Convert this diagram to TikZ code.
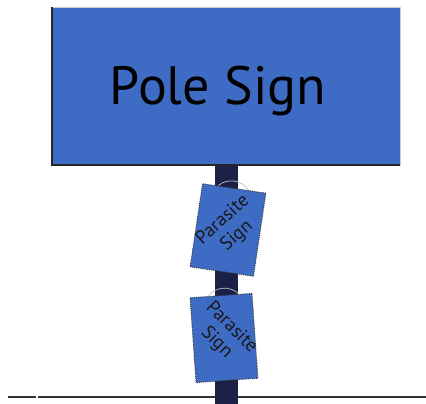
\documentclass[tikz,border=0pt]{standalone}
\usepackage{fontspec}
\setmainfont{PT Sans}
\usetikzlibrary{calc}

\definecolor{signblue}{RGB}{62,108,196}
\definecolor{polenavy}{RGB}{27,32,70}

\begin{document}
\begin{tikzpicture}[x=1pt, y=1pt,
  polesign/.style={fill=signblue, draw=gray!40, minimum width=348pt, minimum height=158pt, inner sep=0pt},
  parasite/.style={fill=signblue, draw=black!80, densely dotted, line width=0.9pt, inner sep=0pt},
  paratext/.style={font=\fontsize{19}{21}\selectfont, align=center, text=black!90},
  wire/.style={draw=gray!50, line width=0.7pt}]
\useasboundingbox (0,0) rectangle (426,404);

% Ground line
\coordinate (gA) at (8,7);
\coordinate (gB) at (36,7);
\coordinate (gC) at (38,7);
\coordinate (gD) at (426,7);
\draw[black!80, line width=2.2pt] (gA) -- (gB);
\draw[black!80, line width=2.2pt] (gC) -- (gD);

% Pole
\fill[polenavy] (215,0) rectangle (238,250);

% Pole sign
\node[polesign] (sign) at (226,318) {};
\draw[black!85, line width=1.4pt] (sign.north west) -- (sign.south west) -- (sign.south east);
\node[anchor=base, font=\fontsize{54}{54}\selectfont] (signtext) at (218,299) {Pole Sign};

% Parasite signs
\node[parasite, minimum width=64pt, minimum height=84pt, rotate=-8.5] (paraA) at (228,174) {};
\node[paratext, rotate=42] (textA) at (230,176) {Parasite\\Sign};

\node[parasite, minimum width=62pt, minimum height=85pt, rotate=4] (paraB) at (224,66) {};
\node[paratext, rotate=-45] (textB) at (224,69) {Parasite\\Sign};

% Hanging wires
\draw[wire] ($(paraA.north west)!0.25!(paraA.north east)$) to[bend left=50] ($(paraA.north west)!0.72!(paraA.north east)$);
\draw[wire] ($(paraB.north west)!0.3!(paraB.north east)$) to[bend left=50] ($(paraB.north west)!0.78!(paraB.north east)$);
\end{tikzpicture}
\end{document}
